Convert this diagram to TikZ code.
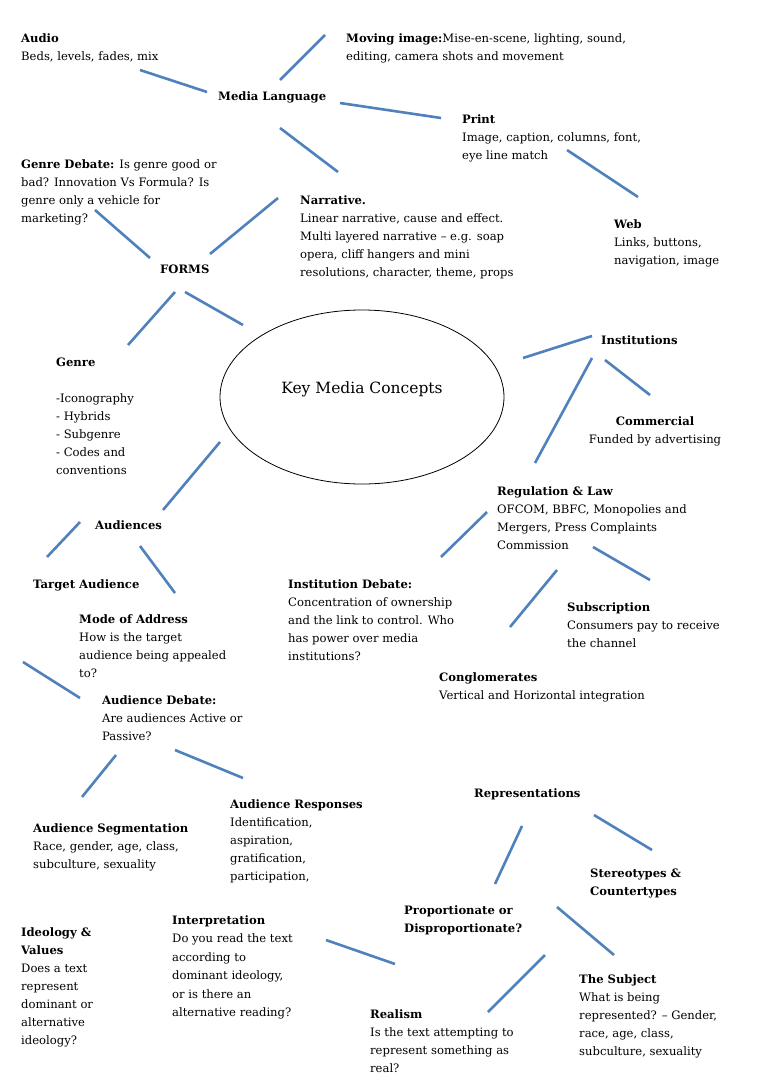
\documentclass[tikz,border=0pt]{standalone}
\usepackage{fontspec}
\setmainfont{DejaVu Serif}
\usetikzlibrary{shapes.geometric}
\definecolor{lblue}{HTML}{4F81BD}
\begin{document}
\begin{tikzpicture}[x=1pt,y=-1pt,
  txt/.style={anchor=north west,align=left,inner sep=0pt,font=\fontsize{11.6}{18}\selectfont},
  con/.style={draw=lblue,line width=2.6pt}]
\useasboundingbox[fill=white] (0,0) rectangle (768,1087);
\begin{scope}[yshift=-2pt]
\node[txt] (audio) at (21,31) {\textbf{Audio}\\Beds, levels, fades, mix};
\node[txt] (mov) at (346,31) {\textbf{Moving image:}Mise-en-scene, lighting, sound,\\editing, camera shots and movement};
\node[txt] (ml) at (218,89) {\textbf{Media Language}};
\node[txt] (print) at (462,112) {\textbf{Print}\\Image, caption, columns, font,\\eye line match};
\node[txt] (gd) at (21,157) {\textbf{Genre Debate:} Is genre good or\\bad? Innovation Vs Formula? Is\\genre only a vehicle for\\marketing?};
\node[txt] (narr) at (300,193) {\textbf{Narrative.}\\Linear narrative, cause and effect.\\Multi layered narrative -- e.g. soap\\opera, cliff hangers and mini\\resolutions, character, theme, props};
\node[txt] (web) at (614,217) {\textbf{Web}\\Links, buttons,\\navigation, image};
\node[txt] (forms) at (160,263) {\textbf{FORMS}};
\node[txt] (inst) at (601,333) {\textbf{Institutions}};
\node[txt] (genre) at (56,356) {\textbf{Genre}\\\\-Iconography\\- Hybrids\\- Subgenre\\- Codes and\\conventions};
\node[txt,align=center,anchor=north] (comm) at (655,414) {\textbf{Commercial}\\Funded by advertising};
\node[txt] (reg) at (497,484) {\textbf{Regulation \& Law}\\OFCOM, BBFC, Monopolies and\\Mergers, Press Complaints\\Commission};
\node[txt] (aud) at (95,518) {\textbf{Audiences}};
\node[txt] (ta) at (33,577) {\textbf{Target Audience}};
\node[txt] (idb) at (288,577) {\textbf{Institution Debate:}\\Concentration of ownership\\and the link to control. Who\\has power over media\\institutions?};
\node[txt] (sub) at (567,600) {\textbf{Subscription}\\Consumers pay to receive\\the channel};
\node[txt] (moa) at (79,612) {\textbf{Mode of Address}\\How is the target\\audience being appealed\\to?};
\node[txt] (cong) at (439,670) {\textbf{Conglomerates}\\Vertical and Horizontal integration};
\node[txt] (ad) at (102,693) {\textbf{Audience Debate:}\\Are audiences Active or\\Passive?};
\node[txt] (rep) at (474,786) {\textbf{Representations}};
\node[txt] (ar) at (230,797) {\textbf{Audience Responses}\\Identification,\\aspiration,\\gratification,\\participation,};
\node[txt] (as) at (33,821) {\textbf{Audience Segmentation}\\Race, gender, age, class,\\subculture, sexuality};
\node[txt] (st) at (590,867) {\textbf{Stereotypes \&}\\\textbf{Countertypes}};
\node[txt] (prop) at (404,903) {\textbf{Proportionate or}\\\textbf{Disproportionate?}};
\node[txt,font=\fontsize{11.6}{18.5}\selectfont] (interp) at (172,913) {\textbf{Interpretation}\\Do you read the text\\according to\\dominant ideology,\\or is there an\\alternative reading?};
\node[txt] (ideo) at (21,925) {\textbf{Ideology \&}\\\textbf{Values}\\Does a text\\represent\\dominant or\\alternative\\ideology?};
\node[txt] (subj) at (579,972) {\textbf{The Subject}\\What is being\\represented? -- Gender,\\race, age, class,\\subculture, sexuality};
\node[txt] (real) at (370,1007) {\textbf{Realism}\\Is the text attempting to\\represent something as\\real?};
\end{scope}
\node[draw,ellipse,minimum width=284pt,minimum height=174pt,line width=0.8pt] (kmc) at (362,397) {};
\node[font=\fontsize{15.5}{20}\selectfont,inner sep=0pt] (kmct) at (362,389) {Key Media Concepts};
\foreach \n/\a/\b/\c/\d in {
 a/140/70/207/92, b/280/80/325/35, c/340/103/441/118, d/280/128/338/172,
 e/567/150/638/197, f/95/210/150/258, g/210/254/278/198, h/175/292/128/345,
 i/185/292/243/325, j/523/358/592/336, k/605/360/650/395, l/592/358/535/463,
 m/220/442/163/510, n/80/522/47/557, o/140/546/175/593, p/487/512/441/557,
 q/593/547/650/580, r/557/570/510/627, s/23/662/80/698, t/116/755/82/797,
 u/175/750/243/778, v/522/826/495/884, w/594/815/652/850, x/326/940/395/964,
 y/557/907/614/955, z/545/955/488/1012}{
  \coordinate (\n1) at (\a,\b);
  \coordinate (\n2) at (\c,\d);
  \draw[con] (\n1) -- (\n2);
}
\end{tikzpicture}
\end{document}
